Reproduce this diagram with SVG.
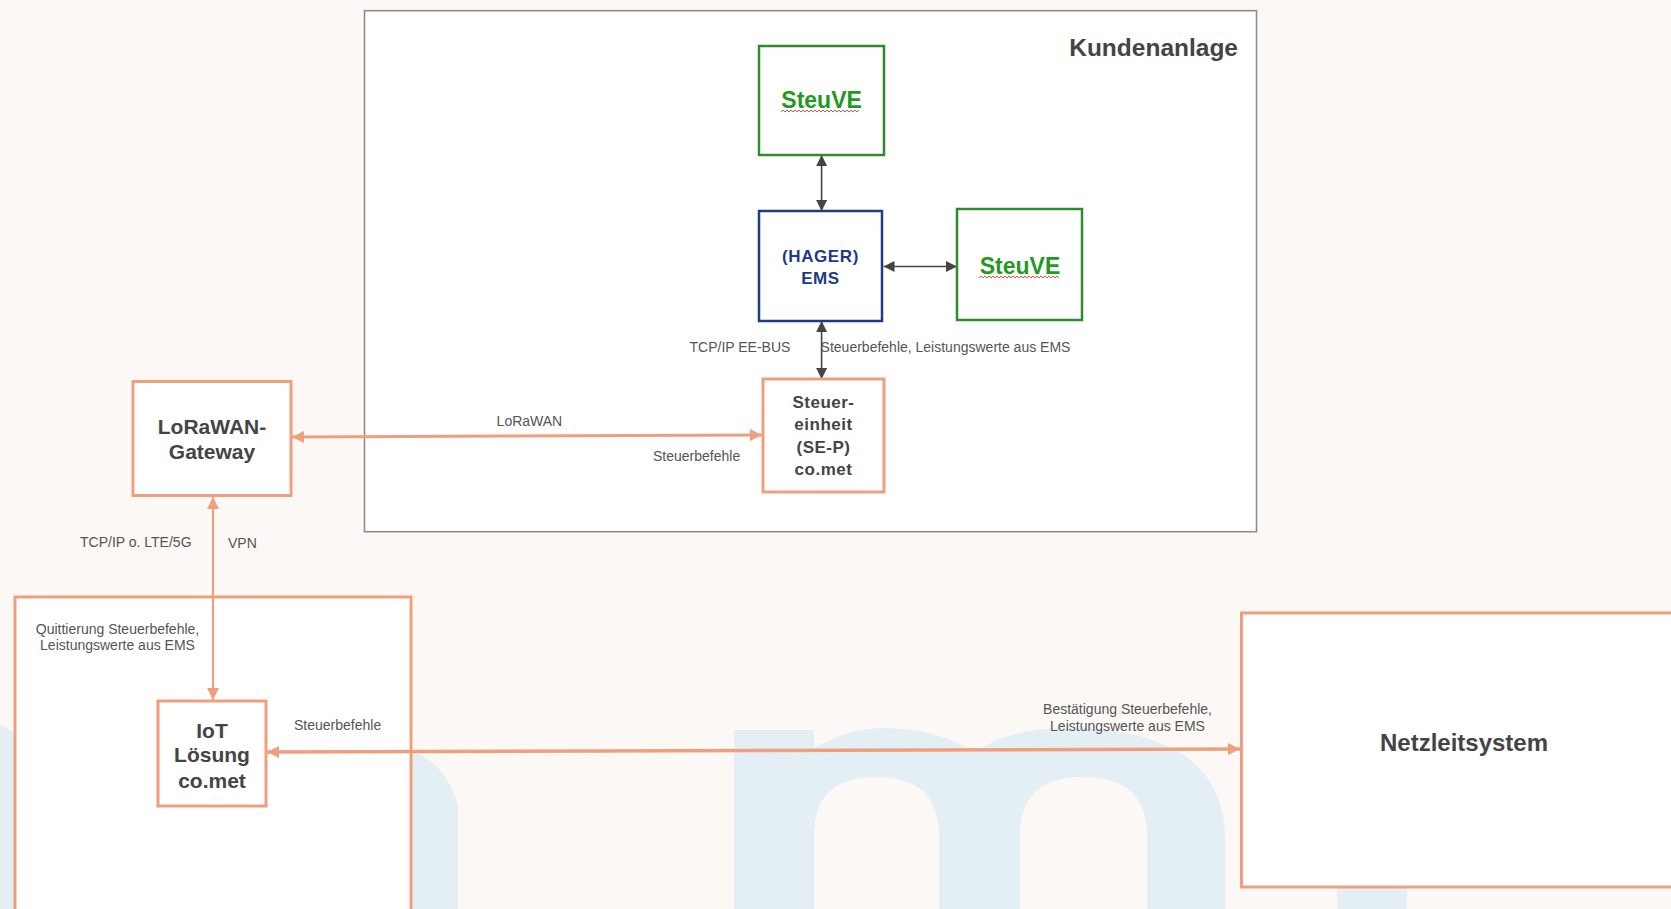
<svg xmlns="http://www.w3.org/2000/svg" width="1671" height="909" viewBox="0 0 1671 909">
<style>
  .bg { fill: #fcf8f5; }
  .wm { fill: #e3eff4; }
  .hole { fill: #fcf8f5; }
  .frame { fill: #ffffff; stroke: #8c8c8c; stroke-width: 1.6; }
  .green { fill: #ffffff; stroke: #2e8b2e; stroke-width: 2.5; }
  .navy { fill: #ffffff; stroke: #1f3a86; stroke-width: 2.5; }
  .orange { fill: #ffffff; stroke: #ef9f7e; stroke-width: 3; }
  .t { font-family: "Liberation Sans", Arial, sans-serif; }
  .big { font-weight: bold; fill: #444444; text-anchor: middle; }
  .gtxt { font-weight: bold; fill: #1f9a1f; text-anchor: middle; font-size: 23px; }
  .ntxt { font-weight: bold; fill: #1f3a86; text-anchor: middle; font-size: 17px; letter-spacing: 0.6px; }
  .lbl { fill: #555555; font-size: 14px; }
  .lblc { fill: #555555; font-size: 14px; text-anchor: middle; }
  .dark { stroke: #444444; stroke-width: 1.6; fill: none; }
  .oc { stroke: #ef9f7e; fill: none; }
  .squig { stroke: #e05555; stroke-width: 1; fill: none; }
</style>
<defs>
  <marker id="ad" viewBox="0 0 10 10" refX="10" refY="5" markerWidth="11" markerHeight="11" markerUnits="userSpaceOnUse" orient="auto-start-reverse">
    <path d="M0,0 L10,5 L0,10 Z" fill="#444444"/>
  </marker>
  <marker id="ao" viewBox="0 0 10 10" refX="10" refY="5" markerWidth="12" markerHeight="12" markerUnits="userSpaceOnUse" orient="auto-start-reverse">
    <path d="M0,0 L10,5 L0,10 Z" fill="#ef9f7e"/>
  </marker>
</defs>

<!-- background and watermark -->
<rect class="bg" x="0" y="0" width="1671" height="909"/>
<g id="watermark">
  <path class="wm" d="M734,909 L734,730 L814,730 L814,748 Q850,728 885,728 Q935,728 975,752 Q1010,728 1065,728 Q1225,728 1225,840 L1225,909 Z"/>
  <path class="hole" d="M814,909 L814,835 Q814,777 876,777 Q939,777 939,835 L939,909 Z"/>
  <path class="hole" d="M1020,909 L1020,835 Q1020,777 1083,777 Q1147,777 1147,835 L1147,909 Z"/>
  <path class="wm" d="M0,725 Q10,728 16,735 L16,909 L0,909 Z"/>
  <path class="wm" d="M411,751 Q445,762 458,805 L458,909 L411,909 Z"/>
  <rect class="wm" x="1337" y="885" width="70" height="24"/>
</g>

<!-- container: Kundenanlage -->
<g id="kundenanlage">
  <rect class="frame" x="364.5" y="10.7" width="892" height="521"/>
  <text class="t" x="1238" y="56" font-size="24.5" font-weight="bold" fill="#444444" text-anchor="end">Kundenanlage</text>
</g>

<!-- large left container -->
<g id="container-left">
  <rect class="orange" x="15" y="597" width="396" height="340"/>
</g>

<!-- connectors -->
<g id="connectors">
  <line class="dark" x1="821.6" y1="155" x2="821.6" y2="211" marker-start="url(#ad)" marker-end="url(#ad)"/>
  <line class="dark" x1="883.5" y1="266.5" x2="957" y2="266.5" marker-start="url(#ad)" marker-end="url(#ad)"/>
  <line class="dark" x1="821.6" y1="321" x2="821.6" y2="379" marker-start="url(#ad)" marker-end="url(#ad)"/>
  <line class="oc" stroke-width="3" x1="292" y1="437" x2="762" y2="435" marker-start="url(#ao)" marker-end="url(#ao)"/>
  <line class="oc" stroke-width="2.2" x1="213" y1="497" x2="213" y2="700" marker-start="url(#ao)" marker-end="url(#ao)"/>
  <line class="oc" stroke-width="3.5" x1="267" y1="752" x2="1240" y2="749" marker-start="url(#ao)" marker-end="url(#ao)"/>
</g>

<!-- connector labels -->
<g id="labels" class="t">
  <text class="lbl" x="689.5" y="352">TCP/IP EE-BUS</text>
  <text class="lbl" x="820.6" y="352">Steuerbefehle, Leistungswerte aus EMS</text>
  <text class="lbl" x="496.6" y="426">LoRaWAN</text>
  <text class="lbl" x="653" y="461">Steuerbefehle</text>
  <text class="lbl" x="80" y="547">TCP/IP o. LTE/5G</text>
  <text class="lbl" x="228" y="548">VPN</text>
  <text class="lblc" x="117.5" y="634">Quittierung Steuerbefehle,</text>
  <text class="lblc" x="117.5" y="650">Leistungswerte aus EMS</text>
  <text class="lbl" x="294" y="730">Steuerbefehle</text>
  <text class="lblc" x="1127.5" y="713.5">Bestätigung Steuerbefehle,</text>
  <text class="lblc" x="1127.5" y="730.5">Leistungswerte aus EMS</text>
</g>

<!-- nodes -->
<g id="steuve-top">
  <rect class="green" x="759" y="46" width="125" height="109"/>
  <text class="t gtxt" x="821.6" y="108">SteuVE</text>
  <path class="squig" d="M781,112 l2,-2 l2,2 l2,-2 l2,2 l2,-2 l2,2 l2,-2 l2,2 l2,-2 l2,2 l2,-2 l2,2 l2,-2 l2,2 l2,-2 l2,2 l2,-2 l2,2 l2,-2 l2,2 l2,-2 l2,2 l2,-2 l2,2 l2,-2 l2,2 l2,-2 l2,2 l2,-2 l2,2 l2,-2 l2,2 l2,-2 l2,2 l2,-2 l2,2 l2,-2 l2,2 l2,-2"/>
</g>

<g id="hager-ems">
  <rect class="navy" x="759" y="211" width="123" height="110"/>
  <text class="t ntxt" x="820.5" y="262">(HAGER)</text>
  <text class="t ntxt" x="820.5" y="284">EMS</text>
</g>

<g id="steuve-right">
  <rect class="green" x="957" y="209" width="125" height="111"/>
  <text class="t gtxt" x="1020" y="274">SteuVE</text>
  <path class="squig" d="M979,278 l2,-2 l2,2 l2,-2 l2,2 l2,-2 l2,2 l2,-2 l2,2 l2,-2 l2,2 l2,-2 l2,2 l2,-2 l2,2 l2,-2 l2,2 l2,-2 l2,2 l2,-2 l2,2 l2,-2 l2,2 l2,-2 l2,2 l2,-2 l2,2 l2,-2 l2,2 l2,-2 l2,2 l2,-2 l2,2 l2,-2 l2,2 l2,-2 l2,2 l2,-2 l2,2 l2,-2 l2,2"/>
</g>

<g id="steuereinheit">
  <rect class="orange" x="763" y="379" width="121" height="113"/>
  <text class="t big" x="823.5" y="408" font-size="17" letter-spacing="0.5">Steuer-</text>
  <text class="t big" x="823.5" y="430" font-size="17" letter-spacing="0.5">einheit</text>
  <text class="t big" x="823.5" y="452.5" font-size="17" letter-spacing="0.5">(SE-P)</text>
  <text class="t big" x="823.5" y="475" font-size="17" letter-spacing="0.5">co.met</text>
</g>

<g id="lorawan-gateway">
  <rect class="orange" x="133" y="381.5" width="158" height="114"/>
  <text class="t big" x="212" y="433.5" font-size="21">LoRaWAN-</text>
  <text class="t big" x="212" y="459" font-size="21">Gateway</text>
</g>

<g id="iot-loesung">
  <rect class="orange" x="158" y="701" width="108" height="105"/>
  <text class="t big" x="212" y="737.5" font-size="21">IoT</text>
  <text class="t big" x="212" y="762" font-size="21">Lösung</text>
  <text class="t big" x="212" y="787.5" font-size="21">co.met</text>
</g>

<g id="netzleitsystem">
  <rect class="orange" x="1241.5" y="613" width="450" height="274"/>
  <text class="t big" x="1464" y="751" font-size="24">Netzleitsystem</text>
</g>
</svg>
